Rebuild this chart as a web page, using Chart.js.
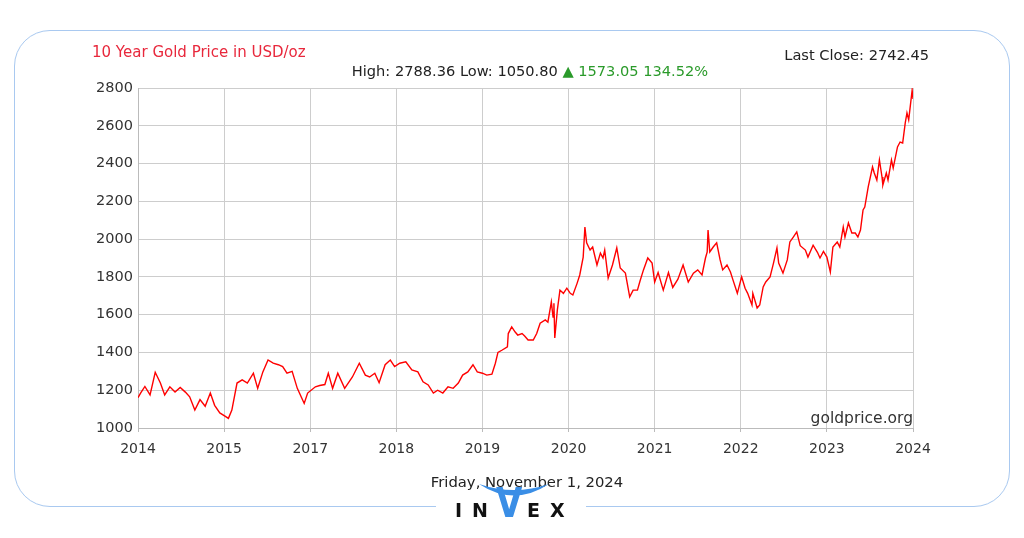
<!DOCTYPE html>
<html>
<head>
<meta charset="utf-8">
<title>10 Year Gold Price</title>
<script src="https://cdn.jsdelivr.net/npm/chart.js@4.4.0/dist/chart.umd.min.js"></script>
<style>
  html, body { margin: 0; padding: 0; background: #fff; }
  #wrap { position: relative; width: 1024px; height: 538px; overflow: hidden; font-family: "DejaVu Sans", Verdana, sans-serif; }
  #frame { position: absolute; left: 14px; top: 30px; width: 994px; height: 475px; border: 1.5px solid #a9c9f0; border-radius: 36px; }
  #gap { position: absolute; left: 436px; top: 495px; width: 150px; height: 20px; background: #fff; }
  canvas { position: absolute; left: 0; top: 0; }
  .txt { position: absolute; white-space: nowrap; }
  #title { left: 92px; top: 43px; font-size: 15px; color: #e8283c; }
  #close { right: 95px; top: 46px; font-size: 14.6px; color: #222; }
  #hilo { left: 0; width: 1060px; text-align: center; top: 62px; font-size: 14.6px; color: #222; }
  #hilo .up { color: #2a9a2a; }
  #src { right: 111px; top: 409px; font-size: 15.5px; color: #333; }
  #date { left: 0; width: 1054px; text-align: center; top: 473px; font-size: 14.8px; color: #222; }
  .logo { top: 499px; font-size: 19px; font-weight: bold; color: #111; letter-spacing: 10px; }
  #logoA { left: 455px; }
  #logoB { left: 527px; }
  #logoV { left: 496px; top: 480px; font-size: 40px; font-weight: bold; color: #3a8ee6; transform: scaleX(0.85); transform-origin: left top; }
  #horns { position: absolute; left: 476px; top: 481px; }
</style>
</head>
<body>
<div id="wrap">
  <div id="frame"></div>
  <div id="gap"></div>
  <canvas id="goldChart" width="1024" height="538"></canvas>
  <div class="txt" id="title">10 Year Gold Price in USD/oz</div>
  <div class="txt" id="close">Last Close: 2742.45</div>
  <div class="txt" id="hilo">High: 2788.36 Low: 1050.80 <span class="up">&#9650; 1573.05 134.52%</span></div>
  <div class="txt" id="src">goldprice.org</div>
  <div class="txt" id="date">Friday, November 1, 2024</div>
  <svg id="horns" width="76" height="20" viewBox="0 0 76 20">
    <path d="M3 3 Q38 26 73 3 Q38 15 3 3 Z" fill="#3a8ee6"/>
  </svg>
  <div class="txt logo" id="logoA">IN</div>
  <div class="txt" id="logoV">V</div>
  <div class="txt logo" id="logoB">EX</div>
</div>
<script>
// x axis labels (as printed on the source chart)
var xLabels = ['2014', '2015', '2017', '2018', '2019', '2020', '2021', '2022', '2023', '2024'];

// position along the x axis, in label steps (0 = first label, 9 = last)
var yearPos = [
  0.00, 0.03, 0.08, 0.14, 0.20, 0.26, 0.31, 0.37, 0.43, 0.49,
  0.55, 0.60, 0.66, 0.72, 0.78, 0.84, 0.89, 0.95, 1.01, 1.05,
  1.09, 1.15, 1.21, 1.27, 1.34, 1.39, 1.45, 1.51, 1.57, 1.63,
  1.68, 1.73, 1.79, 1.85, 1.90, 1.93, 1.97, 2.06, 2.11, 2.17,
  2.21, 2.26, 2.32, 2.40, 2.49, 2.57, 2.64, 2.69, 2.75, 2.80,
  2.87, 2.93, 2.98, 3.04, 3.11, 3.18, 3.25, 3.31, 3.37, 3.43,
  3.48, 3.54, 3.60, 3.66, 3.72, 3.77, 3.83, 3.89, 3.94, 4.00,
  4.05, 4.11, 4.15, 4.18, 4.23, 4.29, 4.30, 4.34, 4.38, 4.41,
  4.46, 4.49, 4.53, 4.59, 4.63, 4.67, 4.73, 4.76, 4.80, 4.82,
  4.83, 4.84, 4.87, 4.90, 4.94, 4.98, 5.02, 5.05, 5.10, 5.13,
  5.17, 5.19, 5.21, 5.25, 5.28, 5.33, 5.37, 5.40, 5.42, 5.46,
  5.51, 5.56, 5.60, 5.66, 5.71, 5.75, 5.80, 5.83, 5.87, 5.92,
  5.97, 6.00, 6.04, 6.10, 6.16, 6.21, 6.27, 6.33, 6.39, 6.45,
  6.50, 6.55, 6.59, 6.61, 6.62, 6.64, 6.68, 6.72, 6.76, 6.79,
  6.84, 6.88, 6.91, 6.96, 7.01, 7.05, 7.08, 7.13, 7.14, 7.19,
  7.22, 7.26, 7.29, 7.34, 7.38, 7.42, 7.44, 7.49, 7.54, 7.57,
  7.61, 7.65, 7.69, 7.75, 7.78, 7.84, 7.89, 7.92, 7.96, 8.00,
  8.04, 8.07, 8.12, 8.15, 8.19, 8.21, 8.25, 8.29, 8.33, 8.36,
  8.39, 8.42, 8.44, 8.48, 8.53, 8.55, 8.58, 8.61, 8.64, 8.65,
  8.69, 8.71, 8.75, 8.77, 8.82, 8.85, 8.88, 8.91, 8.93, 8.95,
  8.99, 9.00
];

// gold price, USD/oz
var priceUsd = [
  1160, 1185, 1220, 1175, 1295, 1238, 1175, 1218, 1190, 1215,
  1190, 1165, 1095, 1150, 1115, 1185, 1120, 1080, 1063, 1051,
  1095, 1238, 1255, 1238, 1290, 1210, 1297, 1360, 1343, 1335,
  1325, 1290, 1300, 1210, 1160, 1130, 1185, 1218, 1225, 1230,
  1290, 1210, 1290, 1210, 1270, 1343, 1280, 1270, 1290, 1240,
  1335, 1360, 1325, 1343, 1350, 1307, 1297, 1245, 1228, 1185,
  1200, 1185, 1218, 1210, 1238, 1280, 1297, 1335, 1297, 1290,
  1280, 1285, 1343, 1400, 1413, 1430, 1500, 1535, 1508, 1492,
  1500, 1487, 1466, 1466, 1500, 1555, 1572, 1560, 1667, 1588,
  1660, 1477, 1625, 1730, 1713, 1740, 1713, 1704, 1767, 1810,
  1905, 2064, 1980, 1942, 1958, 1863, 1926, 1900, 1942, 1794,
  1863, 1953, 1847, 1820, 1694, 1730, 1730, 1778, 1837, 1900,
  1873, 1773, 1823, 1730, 1823, 1744, 1788, 1863, 1773, 1820,
  1837, 1810, 1900, 1932, 2048, 1932, 1958, 1980, 1890, 1837,
  1863, 1826, 1783, 1713, 1800, 1740, 1713, 1651, 1713, 1635,
  1651, 1747, 1773, 1800, 1873, 1953, 1873, 1820, 1890, 1985,
  2011, 2038, 1965, 1942, 1905, 1968, 1930, 1900, 1935, 1905,
  1826, 1958, 1985, 1958, 2064, 2011, 2085, 2032, 2032, 2011,
  2048, 2154, 2170, 2276, 2382, 2350, 2313, 2419, 2329, 2286,
  2350, 2313, 2419, 2376, 2488, 2514, 2509, 2615, 2668, 2631,
  2788, 2742
];

var yMin = 1000, yMax = 2800, yStep = 200;

var points = yearPos.map(function (x, i) { return { x: x, y: priceUsd[i] }; });

var fontFamily = '"DejaVu Sans", Verdana, sans-serif';

var ctx = document.getElementById('goldChart').getContext('2d');
var goldChart = new Chart(ctx, {
  type: 'line',
  data: {
    datasets: [{
      label: 'Gold Price USD/oz',
      data: points,
      borderColor: '#ff0000',
      borderWidth: 1.4,
      pointRadius: 0,
      tension: 0,
      fill: false
    }]
  },
  options: {
    responsive: false,
    animation: false,
    devicePixelRatio: 1,
    layout: { padding: { top: 88, right: 111, left: 0, bottom: 0 } },
    plugins: { legend: { display: false }, tooltip: { enabled: false } },
    scales: {
      x: {
        type: 'linear',
        min: 0,
        max: xLabels.length - 1,
        afterFit: function (scale) { scale.height = 110; },
        ticks: {
          stepSize: 1,
          autoSkip: false,
          maxRotation: 0,
          padding: 9,
          color: '#333',
          font: { family: fontFamily, size: 14 },
          callback: function (v) { return xLabels[v]; }
        },
        grid: { color: '#cdcdcd', tickLength: 4, tickColor: '#bbb' },
        border: { color: '#bbb' }
      },
      y: {
        min: yMin,
        max: yMax,
        afterFit: function (scale) { scale.width = 138; },
        ticks: {
          stepSize: yStep,
          padding: 5,
          color: '#333',
          font: { family: fontFamily, size: 14.5 },
          callback: function (v) { return String(v); }
        },
        grid: { color: '#cdcdcd', tickLength: 0, tickColor: '#bbb' },
        border: { color: '#bbb' }
      }
    }
  }
});
</script>
</body>
</html>
